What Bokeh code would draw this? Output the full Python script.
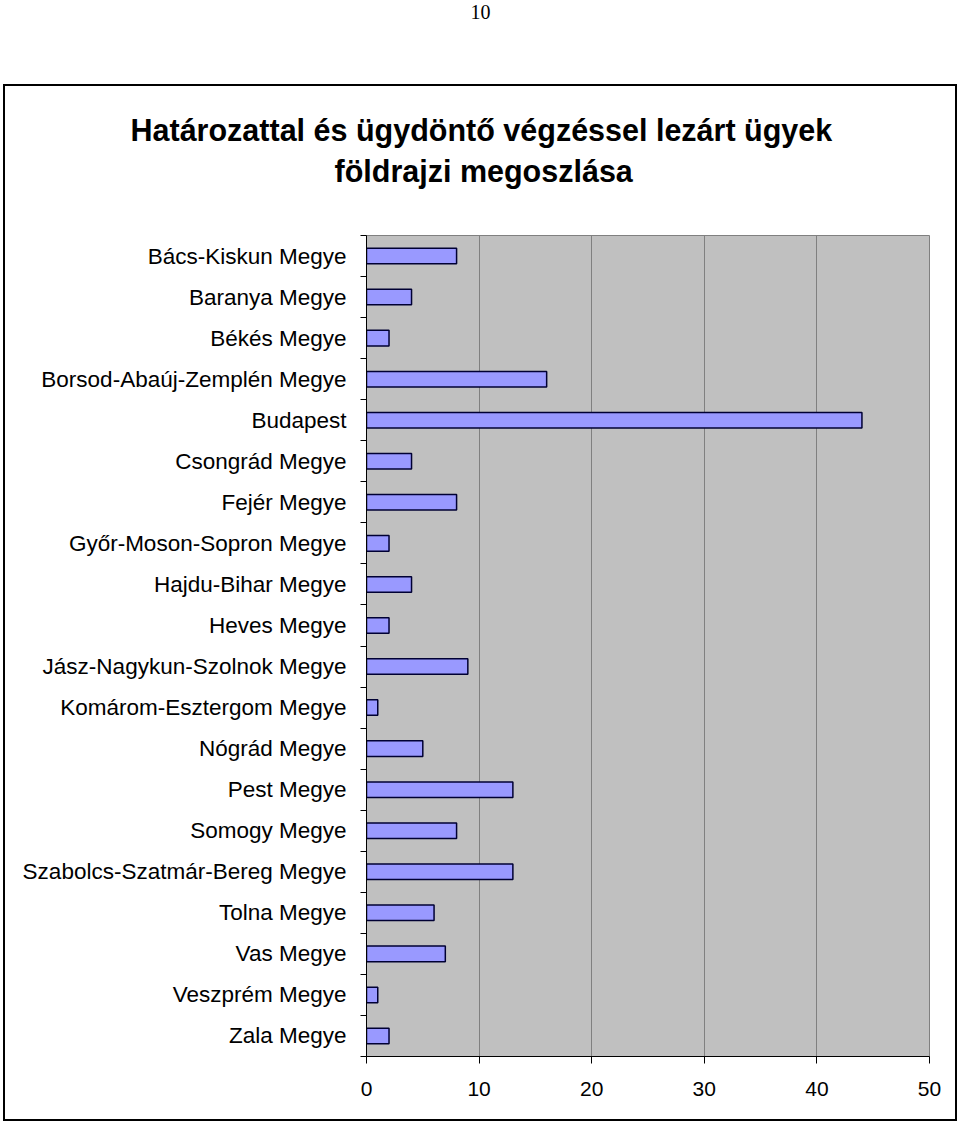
from bokeh.plotting import figure
from bokeh.models import ColumnDataSource, FixedTicker, Title, Range1d
from bokeh.layouts import column
from bokeh.embed import file_html
from bokeh.resources import INLINE

page_number = "10"
title_lines = ["Határozattal és ügydöntő végzéssel lezárt ügyek", "földrajzi megoszlása"]
counties = ["Bács-Kiskun Megye", "Baranya Megye", "Békés Megye", "Borsod-Abaúj-Zemplén Megye",
            "Budapest", "Csongrád Megye", "Fejér Megye", "Győr-Moson-Sopron Megye",
            "Hajdu-Bihar Megye", "Heves Megye", "Jász-Nagykun-Szolnok Megye",
            "Komárom-Esztergom Megye", "Nógrád Megye", "Pest Megye", "Somogy Megye",
            "Szabolcs-Szatmár-Bereg Megye", "Tolna Megye", "Vas Megye", "Veszprém Megye",
            "Zala Megye"]
cases = [8, 4, 2, 16, 44, 4, 8, 2, 4, 2, 9, 1, 5, 13, 8, 13, 6, 7, 1, 2]
x_ticks = [0, 10, 20, 30, 40, 50]

n = len(counties)
ypos = [n - i for i in range(n)]
src = ColumnDataSource(dict(y=ypos, v=cases, name=counties))

# ---- page number strip ----
top = figure(width=960, height=84, output_backend="svg", toolbar_location=None,
             x_range=Range1d(0, 1), y_range=Range1d(0, 1),
             min_border_left=0, min_border_right=0, min_border_top=0, min_border_bottom=0)
top.axis.visible = False
top.grid.visible = False
top.outline_line_color = None
top.add_layout(Title(text=page_number, align="left", offset=109,
                     text_font="Liberation Serif", text_font_style="normal",
                     text_font_size="20px", text_color="black", standoff=5), "above")
top.scatter(x=[0.5], y=[0.5], size=0, alpha=0)

# ---- main chart ----
CW, CH = 950, 1033      # content size inside the border
X0, Y0 = 5, 86          # content origin on the page
FL, FR, FT, FB = 366, 929, 235, 1056   # frame edges on the page

p = figure(width=CW, height=CH, output_backend="svg", toolbar_location=None,
           x_range=Range1d(0, 50), y_range=Range1d(0.5, n + 0.5),
           min_border_left=FL - X0, min_border_right=(X0 + CW) - FR + 4,
           min_border_top=FT - Y0, min_border_bottom=(Y0 + CH) - FB + 4,
           styles={"border": "2px solid black", "box-sizing": "content-box"},
           margin=(0, 0, 0, 3))
p.background_fill_color = "#C0C0C0"
p.border_fill_color = "white"
p.outline_line_color = "#808080"
p.outline_line_width = 1

p.hbar(y="y", right="v", left=0, height=0.38, source=src,
       fill_color="#9999FF", line_color="#000033", line_width=1.5)

# x axis
p.xaxis.ticker = FixedTicker(ticks=x_ticks)
p.xaxis.major_tick_in = 0
p.xaxis.major_tick_out = 7
p.xaxis.minor_tick_out = 0
p.xaxis.minor_tick_in = 0
p.xaxis.axis_line_color = "black"
p.xaxis.major_tick_line_color = "black"
p.xaxis.major_label_text_font = "Liberation Sans"
p.xaxis.major_label_text_font_size = "21px"
p.xaxis.major_label_text_color = "black"
p.xaxis.major_label_standoff = 18

# y axis: labels at bar centres, tick marks at category boundaries
p.yaxis.ticker = FixedTicker(ticks=ypos, minor_ticks=[k + 0.5 for k in range(n + 1)])
p.yaxis.major_label_overrides = {y: name for y, name in zip(ypos, counties)}
p.yaxis.major_tick_in = 0
p.yaxis.major_tick_out = 0
p.yaxis.minor_tick_in = 0
p.yaxis.minor_tick_out = 6
p.yaxis.minor_tick_line_color = "black"
p.yaxis.axis_line_color = "black"
p.yaxis.major_label_text_font = "Liberation Sans"
p.yaxis.major_label_text_font_size = "22.5px"
p.yaxis.major_label_text_color = "black"
p.yaxis.major_label_standoff = 14

p.xgrid.ticker = FixedTicker(ticks=x_ticks)
p.xgrid.grid_line_color = "#808080"
p.xgrid.grid_line_width = 1
p.ygrid.grid_line_color = None

# spacer between frame and title, then the two title lines (inner first)
p.add_layout(Title(text=" ", text_font_size="1px", standoff=40), "above")
p.add_layout(Title(text=title_lines[1], align="left", offset=334 - FL,
                   text_font="Liberation Sans", text_font_style="bold",
                   text_font_size="30.5px", text_color="black", standoff=10), "above")
p.add_layout(Title(text=title_lines[0], align="left", offset=130 - FL,
                   text_font="Liberation Sans", text_font_style="bold",
                   text_font_size="30.5px", text_color="black", standoff=0), "above")

layout = column(top, p, spacing=0)
open("out.html", "w").write(file_html(layout, INLINE))
